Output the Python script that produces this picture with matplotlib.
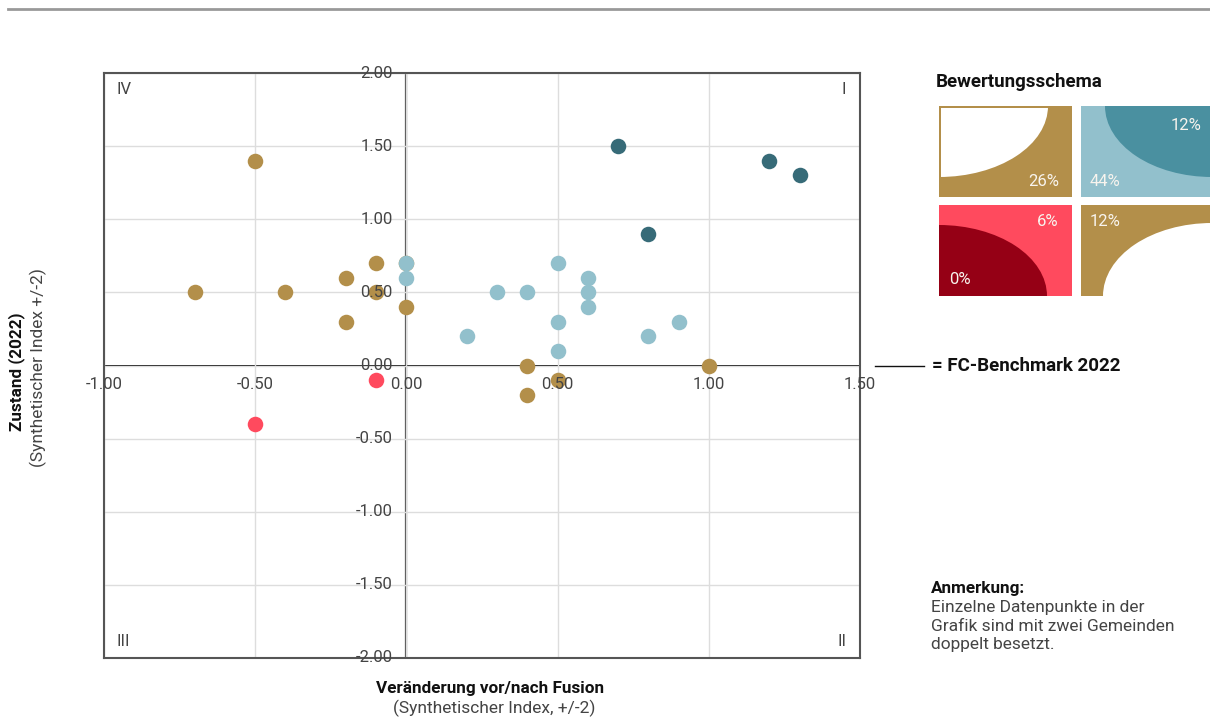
import numpy as np
import matplotlib
matplotlib.use("Agg")
import matplotlib.pyplot as plt
from matplotlib.patches import Rectangle, Ellipse

plt.rcParams['font.family'] = ['Roboto', 'DejaVu Sans']

# data: (change before/after fusion, state 2022)
gold_x = [-0.5, -0.7, -0.4, -0.2, -0.2, -0.1, -0.1, 0.0, 0.0, 0.4, 0.4, 0.5, 1.0]
gold_y = [1.4, 0.5, 0.5, 0.6, 0.3, 0.7, 0.5, 0.7, 0.4, 0.0, -0.2, -0.1, 0.0]
red_x = [-0.1, -0.5]
red_y = [-0.1, -0.4]
light_x = [0.0, 0.0, 0.2, 0.3, 0.4, 0.5, 0.5, 0.5, 0.6, 0.6, 0.6, 0.8, 0.9]
light_y = [0.7, 0.6, 0.2, 0.5, 0.5, 0.7, 0.3, 0.1, 0.6, 0.5, 0.4, 0.2, 0.3]
dark_x = [0.7, 1.2, 1.3, 0.8]
dark_y = [1.5, 1.4, 1.3, 0.9]

x_ticks = [-1.0, -0.5, 0.0, 0.5, 1.0, 1.5]
y_ticks = [-2.0, -1.5, -1.0, -0.5, 0.0, 0.5, 1.0, 1.5, 2.0]

schema_pct = ['26%', '12%', '44%', '6%', '0%', '12%']

GOLD = '#b38f4a'
LIGHT = '#92c0cc'
DARK = '#376b78'
RED = '#ff4a5e'
TEAL = '#4a90a0'
DRED = '#950015'
TXT = '#444444'

fig = plt.figure(figsize=(12.1, 7.18), dpi=100)

# top rule
fig.add_artist(plt.Line2D([8/1210, 1.0], [1 - 9/718] * 2, color='#999999', lw=2))

ax = fig.add_axes([104/1210, 1 - 658/718, 756/1210, 585/718])
ax.set_xlim(-1.0, 1.5)
ax.set_ylim(-2.0, 2.0)
ax.set_xticks(x_ticks)
ax.set_yticks(y_ticks)
ax.grid(True, color='#dddddd', lw=1, zorder=0)
ax.tick_params(length=0, labelbottom=False, labelleft=False)
for s in ax.spines.values():
    s.set_color('#555555')
    s.set_linewidth(1.5)

ax.axvline(0, color='#444444', lw=1.6, zorder=1)
ax.axhline(0, color='black', lw=1.3, zorder=1)

ms = 125
ax.scatter(gold_x, gold_y, s=ms, color=GOLD, lw=0, zorder=3)
ax.scatter(red_x, red_y, s=ms, color=RED, lw=0, zorder=3)
ax.scatter(light_x, light_y, s=ms, color=LIGHT, lw=0, zorder=4)
ax.scatter(dark_x, dark_y, s=ms, color=DARK, lw=0, zorder=4)

tick_style = dict(fontsize=12, color=TXT, zorder=6,
                  textcoords='offset points', annotation_clip=False)
for yv in y_ticks:
    ax.annotate(f'{yv:.2f}', (0, yv), xytext=(-10, 0), ha='right', va='center', **tick_style)
for xv in x_ticks:
    ax.annotate(f'{xv:.2f}', (xv, 0), xytext=(0, -14), ha='center', va='center', **tick_style)

q_style = dict(transform=ax.transAxes, fontsize=12, color=TXT)
ax.text(0.016, 0.971, 'IV', ha='left', va='center', **q_style)
ax.text(0.982, 0.971, 'I', ha='right', va='center', **q_style)
ax.text(0.016, 0.029, 'III', ha='left', va='center', **q_style)
ax.text(0.982, 0.029, 'II', ha='right', va='center', **q_style)

# axis titles
fig.text(490/1210, 1 - 689/718, 'Veränderung vor/nach Fusion', ha='center', va='center',
         fontsize=12.3, fontweight='bold', color='#111111')
fig.text(494/1210, 1 - 708/718, '(Synthetischer Index, +/-2)', ha='center', va='center',
         fontsize=12.5, color=TXT)
fig.text(17/1210, 1 - 372/718, 'Zustand (2022)', ha='center', va='center', rotation=90,
         fontsize=12.3, fontweight='bold', color='#111111')
fig.text(38/1210, 1 - 368/718, '(Synthetischer Index +/-2)', ha='center', va='center', rotation=90,
         fontsize=12.5, color=TXT)

# benchmark note
fig.add_artist(plt.Line2D([875/1210, 924/1210], [1 - 366/718] * 2, color='#111111', lw=1))
fig.text(932/1210, 1 - 366/718, '= FC-Benchmark 2022', ha='left', va='center',
         fontsize=13.5, fontweight='bold', color='#111111')

# legend "Bewertungsschema"
fig.text(936/1210, 1 - 82/718, 'Bewertungsschema', ha='left', va='center',
         fontsize=13.5, fontweight='bold', color='#111111')

lax = fig.add_axes([939/1210, 1 - 296/718, 271/1210, 190/718])
lax.set_xlim(939, 1210)
lax.set_ylim(296, 106)
lax.axis('off')


def panel(x0, y0, x1, y1, bg, fg, center, a, b, inset=0):
    lax.add_patch(Rectangle((x0, y0), x1 - x0, y1 - y0, color=bg, lw=0))
    clip = Rectangle((x0 + inset, y0 + inset), x1 - x0 - inset, y1 - y0 - inset,
                     transform=lax.transData, visible=False)
    lax.add_patch(clip)
    e = Ellipse(center, 2 * a, 2 * b, color=fg, lw=0)
    lax.add_patch(e)
    e.set_clip_path(clip)


panel(939, 106, 1072, 197, GOLD, 'white', (939, 106), 109, 71, inset=2)
panel(1081, 106, 1212, 197, LIGHT, TEAL, (1212, 106), 107, 71)
panel(939, 205, 1072, 296, RED, DRED, (939, 296), 108, 71)
panel(1081, 205, 1212, 296, GOLD, 'white', (1212, 296), 109, 73)

pct_style = dict(fontsize=12, color='#f8f4ee', va='center')
lax.text(1059, 181, schema_pct[0], ha='right', **pct_style)
lax.text(1201, 126, schema_pct[1], ha='right', **pct_style)
lax.text(1090, 181, schema_pct[2], ha='left', **pct_style)
lax.text(1059, 222, schema_pct[3], ha='right', **pct_style)
lax.text(949, 280, schema_pct[4], ha='left', **pct_style)
lax.text(1090, 222, schema_pct[5], ha='left', **pct_style)

# note
fig.text(931/1210, 1 - 588/718, 'Anmerkung:', ha='left', va='center',
         fontsize=12.3, fontweight='bold', color='#111111')
fig.text(931/1210, 1 - 600/718, 'Einzelne Datenpunkte in der\nGrafik sind mit zwei Gemeinden\ndoppelt besetzt.',
         ha='left', va='top', fontsize=12.5, color=TXT, linespacing=1.3)

fig.savefig('out.png', dpi=100)
